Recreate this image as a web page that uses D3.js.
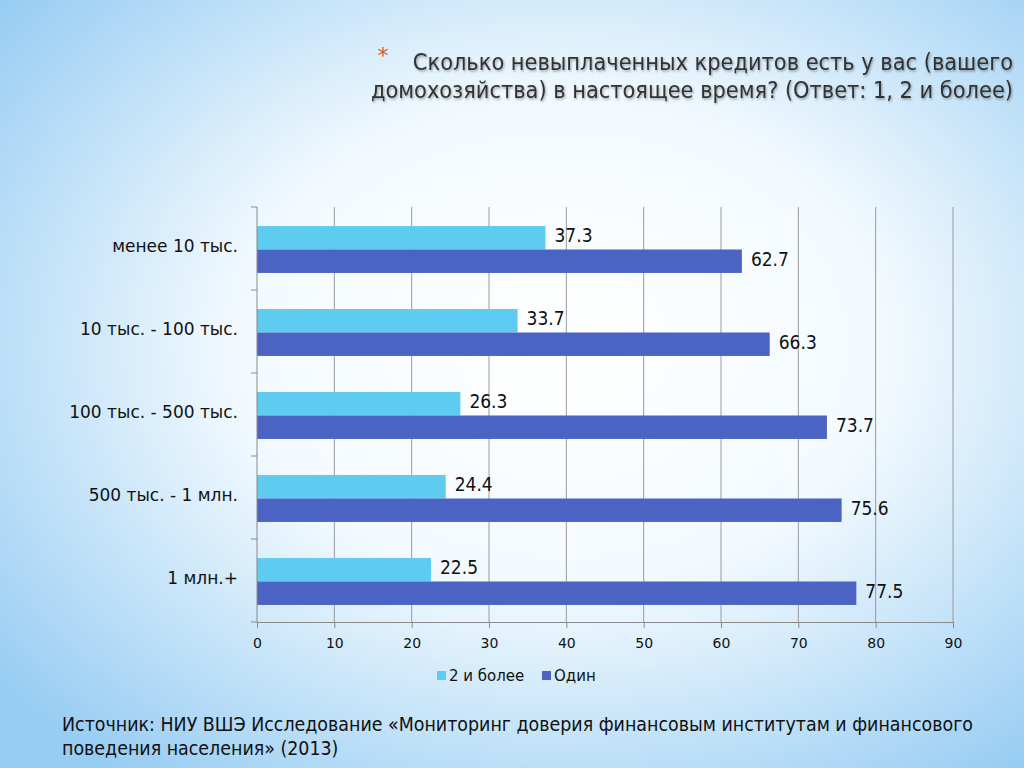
<!DOCTYPE html>
<html>
<head>
<meta charset="utf-8">
<script src="https://cdn.jsdelivr.net/npm/d3@7"></script>
<style>
  body { margin: 0; }
  svg { display: block; }
</style>
</head>
<body>
<svg id="chart"></svg>
<script>
// data
const categories = ["менее 10 тыс.", "10 тыс. - 100 тыс.", "100 тыс. - 500 тыс.", "500 тыс. - 1 млн.", "1 млн.+"]
const seriesNames = ["2 и более", "Один"]
const twoOrMore = [37.3, 33.7, 26.3, 24.4, 22.5]
const one = [62.7, 66.3, 73.7, 75.6, 77.5]
const xTicks = [0, 10, 20, 30, 40, 50, 60, 70, 80, 90]
const colors = ["#5ecbf0", "#4b63c3"]

const W = 1024, H = 768
const svg = d3.select("#chart").attr("width", W).attr("height", H)

// background: light blue with white glow in the middle
const defs = svg.append("defs")
const grad = defs.append("radialGradient").attr("id", "bg")
  .attr("cx", "55%").attr("cy", "45%").attr("r", "70%")
grad.append("stop").attr("offset", "0%").attr("stop-color", "#ffffff")
grad.append("stop").attr("offset", "45%").attr("stop-color", "#f3fafe")
grad.append("stop").attr("offset", "100%").attr("stop-color", "#98cdf3")
svg.append("rect").attr("width", W).attr("height", H).attr("fill", "url(#bg)")

const shadow = defs.append("filter").attr("id", "shadow")
shadow.append("feDropShadow").attr("dx", 1).attr("dy", 1.5).attr("stdDeviation", 0.8)
  .attr("flood-color", "#000").attr("flood-opacity", 0.35)

// title
const title = svg.append("g")
  .style("font-family", "'DejaVu Sans Condensed', 'DejaVu Sans', sans-serif")
  .style("font-size", "23.3px")
  .attr("fill", "#333")
  .attr("text-anchor", "end")
  .attr("filter", "url(#shadow)")
title.append("text").attr("x", 1013).attr("y", 70)
  .text("Сколько невыплаченных кредитов есть у вас (вашего")
title.append("text").attr("x", 1013).attr("y", 98)
  .text("домохозяйства) в настоящее время? (Ответ: 1, 2 и более)")
svg.append("text").attr("x", 383).attr("y", 63)
  .attr("text-anchor", "middle")
  .style("font-family", "'DejaVu Sans', sans-serif")
  .style("font-size", "22px")
  .attr("fill", "#e2532d")
  .text("*")

// plot area
const margin = {top: 207, left: 257}
const width = 953 - 257
const height = 622 - 207

const x = d3.scaleLinear().domain([0, 90]).range([0, width])
const y = d3.scaleBand().domain(categories).range([0, height])
const inner = d3.scaleBand().domain(seriesNames).range([0, y.bandwidth()])
  .paddingOuter(0.77).paddingInner(0)

const g = svg.append("g").attr("transform", "translate(" + margin.left + "," + margin.top + ")")

// vertical gridlines
g.selectAll(".grid")
  .data(xTicks.slice(1))
  .enter()
  .append("line")
  .attr("x1", d => x(d)).attr("x2", d => x(d))
  .attr("y1", 0).attr("y2", height)
  .attr("stroke", "#9a9a9a").attr("stroke-width", 1)

// bars
const rows = categories.map((c, i) => ({cat: c, values: [twoOrMore[i], one[i]]}))
const groups = g.selectAll(".row")
  .data(rows)
  .enter()
  .append("g")
  .attr("transform", d => "translate(0," + (y(d.cat) + 1) + ")")

groups.selectAll("rect")
  .data(d => d.values.map((v, j) => ({name: seriesNames[j], value: v, j: j})))
  .enter()
  .append("rect")
  .attr("x", 0)
  .attr("y", d => inner(d.name))
  .attr("width", d => x(d.value))
  .attr("height", inner.bandwidth())
  .attr("fill", d => colors[d.j])

groups.selectAll(".val")
  .data(d => d.values.map((v, j) => ({name: seriesNames[j], value: v})))
  .enter()
  .append("text")
  .attr("x", d => x(d.value) + 9)
  .attr("y", d => inner(d.name) + inner.bandwidth() / 2 - 2)
  .attr("dy", "0.35em")
  .style("font-family", "'DejaVu Sans Condensed', 'DejaVu Sans', sans-serif")
  .style("font-size", "19px")
  .attr("fill", "#111")
  .text(d => d.value.toFixed(1))

// y axis: line with ticks at band edges
g.append("line").attr("x1", 0).attr("x2", 0).attr("y1", 0).attr("y2", height)
  .attr("stroke", "#8a8a8a")
g.selectAll(".ytick")
  .data(d3.range(categories.length + 1))
  .enter()
  .append("line")
  .attr("x1", -6).attr("x2", 0)
  .attr("y1", d => d * y.step()).attr("y2", d => d * y.step())
  .attr("stroke", "#8a8a8a")

g.selectAll(".ylab")
  .data(categories)
  .enter()
  .append("text")
  .attr("x", -19)
  .attr("y", d => y(d) + y.bandwidth() / 2 - 2)
  .attr("dy", "0.35em")
  .attr("text-anchor", "end")
  .style("font-family", "'DejaVu Sans', sans-serif")
  .style("font-size", "17px")
  .attr("fill", "#111")
  .text(d => d)

// x axis
const xAxis = g.append("g")
  .attr("transform", "translate(0," + height + ")")
  .call(d3.axisBottom(x).tickValues(xTicks).tickSize(6).tickSizeOuter(0))
xAxis.select(".domain").attr("stroke", "#8a8a8a")
xAxis.selectAll(".tick line").attr("stroke", "#8a8a8a")
xAxis.selectAll("text")
  .attr("dy", "1.2em")
  .style("font-family", "'DejaVu Sans', sans-serif")
  .style("font-size", "14px")
  .attr("fill", "#111")

// legend
const legend = svg.append("g").attr("transform", "translate(437,676)")
const legendX = [0, 105]
seriesNames.forEach((name, i) => {
  legend.append("rect").attr("x", legendX[i]).attr("y", -5).attr("width", 9).attr("height", 9)
    .attr("fill", colors[i])
  legend.append("text").attr("x", legendX[i] + 12).attr("y", 0).attr("dy", "0.35em")
    .style("font-family", "'DejaVu Sans', sans-serif")
    .style("font-size", "15px")
    .attr("fill", "#111")
    .text(name)
})

// source
const src = svg.append("g")
  .style("font-family", "'DejaVu Sans Condensed', 'DejaVu Sans', sans-serif")
  .style("font-size", "19.4px")
  .attr("fill", "#111")
src.append("text").attr("x", 62).attr("y", 731)
  .text("Источник: НИУ ВШЭ Исследование «Мониторинг доверия финансовым институтам и финансового")
src.append("text").attr("x", 62).attr("y", 755)
  .text("поведения населения» (2013)")
</script>
</body>
</html>
